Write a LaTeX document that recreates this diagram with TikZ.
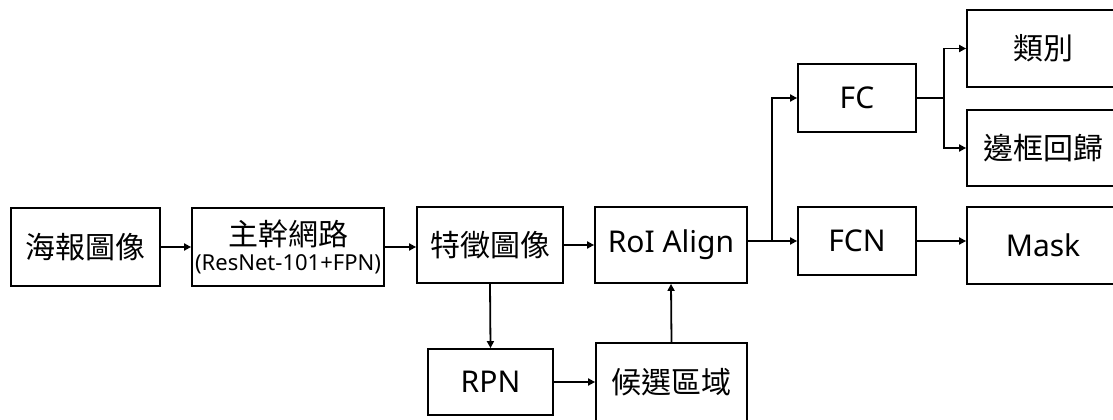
\documentclass[tikz,border=0pt]{standalone}
\usepackage{fontspec}
\setmainfont{Noto Sans}
\newfontfamily\cjk{Noto Sans CJK TC}
\usetikzlibrary{arrows.meta}
\tikzset{
  box/.style={draw=black, line width=1.8pt, inner sep=0pt, font=\fontsize{30}{33}\selectfont},
  arr/.style={line width=1.8pt, -{Triangle[length=7pt,width=7pt]}},
  conn/.style={line width=1.8pt}
}
\begin{document}
\begin{tikzpicture}[x=1pt,y=-1pt]
\useasboundingbox (0,0) rectangle (1113,420);
\fill[white] (0,0) rectangle (1113,420);
\clip (0,0) rectangle (1113,420);
\node[box, minimum width=149pt, minimum height=78pt] (poster) at (85.5,247) {\cjk 海報圖像};
\node[box, minimum width=192pt, minimum height=78pt, align=center] (backbone) at (288,247)
  {{\cjk 主幹網路}\\[-8pt]{\fontsize{22}{24}\selectfont (ResNet-101+FPN)}};
\node[box, minimum width=146pt, minimum height=76pt] (feat) at (490,245) {\cjk 特徵圖像};
\node[box, minimum width=152pt, minimum height=76pt] (roi) at (671,245) {RoI Align};
\node[box, minimum width=118pt, minimum height=68pt] (fc) at (857,98) {FC};
\node[box, minimum width=118pt, minimum height=68pt] (fcn) at (857,241) {FCN};
\node[box, minimum width=152pt, minimum height=77pt] (cls) at (1043,48.5) {\cjk 類別};
\node[box, minimum width=152pt, minimum height=76pt] (bbox) at (1043,148) {\cjk 邊框回歸};
\node[box, minimum width=152pt, minimum height=77pt] (mask) at (1043,245.5) {Mask};
\node[box, minimum width=125pt, minimum height=66pt] (rpn) at (490.5,382) {RPN};
\node[box, minimum width=151pt, minimum height=78pt] (prop) at (671.5,382) {\cjk 候選區域};
\coordinate (b1) at (772,241);
\coordinate (b2) at (944,98);
\draw[arr] (poster.east) -- (backbone.west);
\draw[arr] (backbone.east) -- (backbone.east -| feat.west);
\draw[arr] (feat.east) -- (roi.west);
\draw[arr] (feat.south) -- (rpn.north);
\draw[arr] (rpn.east) -- (rpn.east -| prop.west);
\draw[arr] (prop.north) -- (roi.south);
\draw[conn] (roi.east |- fcn.west) -- (b1);
\draw[arr] (b1) -- (fcn.west);
\draw[arr] (b1) |- (fc.west);
\draw[conn] (fc.east) -- (b2);
\draw[arr] (b2) |- (cls.west);
\draw[arr] (b2) |- (bbox.west);
\draw[arr] (fcn.east) -- (fcn.east -| mask.west);
\end{tikzpicture}
\end{document}
